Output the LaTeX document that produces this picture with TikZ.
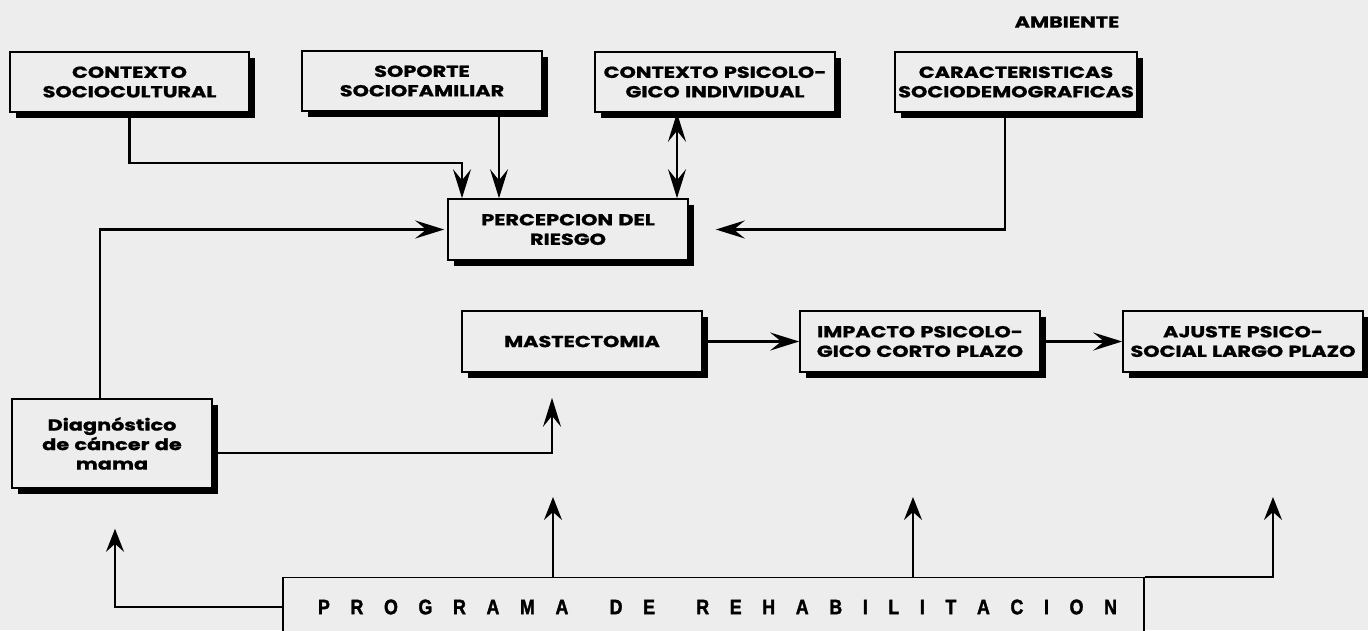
\documentclass[tikz,border=0pt]{standalone}
\usepackage{fontspec}
\setmainfont{Poppins}[BoldFeatures={FakeBold=1.2,FakeStretch=1.3}]
\newfontfamily\progfont{Liberation Sans}[BoldFeatures={FakeBold=1.8,FakeStretch=0.85}]
\usetikzlibrary{shadows,arrows.meta}
\definecolor{paper}{gray}{0.93}

\begin{document}
\begin{tikzpicture}[
    x=1pt,y=-1pt,
    >={Stealth[length=29pt,width=18pt,inset=11pt]},
    box/.style={rectangle,draw=black,line width=1.6pt,fill=paper,
                text width=#1,minimum height=60pt,align=center,inner sep=0pt,
                font=\fontsize{16}{19.5}\selectfont\bfseries,
                drop shadow={shadow xshift=6pt,shadow yshift=-6pt,fill=black,opacity=1}},
    box/.default=240pt,
    conn/.style={line width=2.4pt,->},
    prog/.style={line width=1.8pt,-{Stealth[length=23pt,width=18pt,inset=8pt]}},
]
\useasboundingbox[fill=paper] (0,0) rectangle (1368,630);

% factores del ambiente
\node[box=239pt] (socio) at (129.5,82) {CONTEXTO\\SOCIOCULTURAL};
\node[box] (sopfam) at (422,81) {SOPORTE\\SOCIOFAMILIAR};
\node[box] (psico) at (715,82) {CONTEXTO PSICOLO-\\GICO INDIVIDUAL};
\node[box=242pt] (sociodem) at (1016,82) {CARACTERISTICAS\\SOCIODEMOGRAFICAS};
\node[font=\fontsize{16}{19.5}\selectfont\bfseries] (ambiente) at (1067,22) {AMBIENTE};

% proceso
\node[box,minimum height=61pt] (percep) at (568,229.5) {PERCEPCION DEL\\RIESGO};
\node[box,minimum height=61pt] (mastec) at (582,341.5) {MASTECTOMIA};
\node[box,minimum height=61pt] (impacto) at (920,341.5) {IMPACTO PSICOLO-\\GICO CORTO PLAZO};
\node[box,minimum height=61pt] (ajuste) at (1243,341.5) {AJUSTE PSICO-\\SOCIAL LARGO PLAZO};
\node[box=200pt,minimum height=89pt] (diag) at (112,443.5) {Diagnóstico\\de cáncer de\\mama};

% rehabilitacion
\node[draw,line width=1.6pt,fill=paper,minimum width=861pt,minimum height=59pt,inner sep=0pt,
      font=\fontsize{21}{24}\progfont\bfseries\selectfont] (program) at (713.5,607)
  {\hspace*{8pt}\makebox[799pt][s]{P\hfil R\hfil O\hfil G\hfil R\hfil A\hfil M\hfil A\hfil\hfil D\hfil E\hfil\hfil
   R\hfil E\hfil H\hfil A\hfil B\hfil I\hfil L\hfil I\hfil T\hfil A\hfil C\hfil I\hfil O\hfil N}};
\coordinate (up1) at (553,497);
\coordinate (up2) at (913,497);
\coordinate (up3) at (1273,497);

\draw[conn] (socio.south) -- ++(0,50) -| ([xshift=-106pt]percep.north);
\draw[conn] ([xshift=77pt]sopfam.south) -- ([xshift=-69pt]percep.north);
\draw[conn,<->] ([xshift=-38pt]psico.south) -- ([xshift=109pt]percep.north);
\draw[conn,shorten >=27pt] ([xshift=-11pt]sociodem.south) |- (percep.east);
\draw[conn,shorten >=3pt] ([xshift=-12pt]diag.north) |- (percep.west);
\draw[conn,shorten >=25pt] ([yshift=-9.5pt]diag.east) -| ([xshift=-30pt]mastec.south);
\draw[conn] (mastec.east) -- (impacto.west);
\draw[conn] (impacto.east) -- (ajuste.west);

\draw[prog,shorten >=40pt] (program.west) -| ([xshift=3pt]diag.south);
\draw[prog] (program.north -| up1) -- (up1);
\draw[prog] (program.north -| up2) -- (up2);
\draw[prog] (program.north east) -| (up3);
\end{tikzpicture}
\end{document}
